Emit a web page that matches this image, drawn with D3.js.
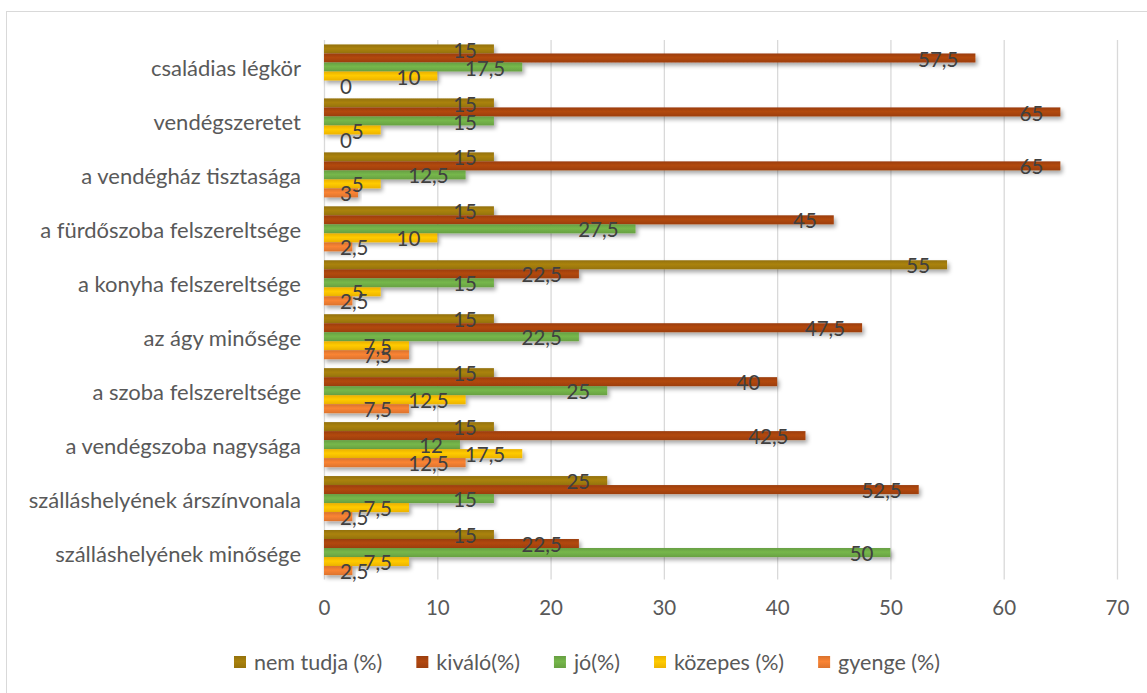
<!DOCTYPE html>
<html><head><meta charset="utf-8">
<script src="https://cdn.jsdelivr.net/npm/d3@7"></script>
<style>
html,body{margin:0;padding:0;background:#fff;}
text{font-family:Lato,"Open Sans",sans-serif;}
</style></head>
<body>
<svg id="chart" width="1147" height="693"></svg>
<script>
const categories = ["családias légkör","vendégszeretet","a vendégház tisztasága","a fürdőszoba felszereltsége","a konyha felszereltsége","az ágy minősége","a szoba felszereltsége","a vendégszoba nagysága","szálláshelyének árszínvonala","szálláshelyének minősége"];
const seriesNames = ["nem tudja (%)","kiváló(%)","jó(%)","közepes (%)","gyenge (%)"];
const nemTudja = [15,15,15,15,55,15,15,15,25,15];
const kivalo   = [57.5,65,65,45,22.5,47.5,40,42.5,52.5,22.5];
const jo       = [17.5,15,12.5,27.5,15,22.5,25,12,15,50];
const kozepes  = [10,5,5,10,5,7.5,12.5,17.5,7.5,7.5];
const gyenge   = [0,0,3,2.5,2.5,7.5,7.5,12.5,2.5,2.5];
const xTicks = [0,10,20,30,40,50,60,70];
const colors = ["#a17b0c","#a9440f","#70ad47","#ffc000","#ed7d31"];

const seriesValues = [nemTudja,kivalo,jo,kozepes,gyenge];
const svg = d3.select("#chart");

// border
svg.append("rect").attr("x",6.5).attr("y",11.5).attr("width",1160).attr("height",700)
  .attr("fill","none").attr("stroke","#d9d9d9").attr("stroke-width",1);

const defs = svg.append("defs");
const filt = defs.append("filter").attr("id","shadow").attr("x","-5%").attr("y","-50%").attr("width","115%").attr("height","250%");
filt.append("feDropShadow").attr("dx",2).attr("dy",3).attr("stdDeviation",2).attr("flood-color","#000").attr("flood-opacity",0.35);
colors.forEach((c,i)=>{
  const g = defs.append("linearGradient").attr("id","grad"+i).attr("x1",0).attr("y1",0).attr("x2",0).attr("y2",1);
  const base = d3.color(c);
  g.append("stop").attr("offset","0%").attr("stop-color",base.darker(0.25));
  g.append("stop").attr("offset","45%").attr("stop-color",base.brighter(0.15));
  g.append("stop").attr("offset","100%").attr("stop-color",base.darker(0.2));
});

const x = d3.scaleLinear().domain([0,70]).range([324,1117]);
const y = d3.scaleBand().domain(categories).range([40,579.5]).paddingInner(0.165).paddingOuter(0.0825);
const ySub = d3.scaleBand().domain(seriesNames).range([0,y.bandwidth()]);

// gridlines
svg.append("g").selectAll("line").data(xTicks).join("line")
  .attr("x1",d=>x(d)+0.5).attr("x2",d=>x(d)+0.5).attr("y1",40).attr("y2",579.5)
  .attr("stroke","#d9d9d9").attr("stroke-width",1.3);

// x tick labels
const xAxis = d3.axisBottom(x).tickValues(xTicks).tickSize(0).tickPadding(0).tickFormat(d=>String(d));
const xg = svg.append("g").attr("transform","translate(0,600)").call(xAxis);
xg.select(".domain").remove();
xg.selectAll("text").attr("fill","#595959").style("font-size","20.5px").attr("dy","0.72em").attr("font-family","Lato");

// y category labels
const yAxis = d3.axisLeft(y).tickSize(0).tickPadding(0);
const yg = svg.append("g").attr("transform","translate(301,2)").call(yAxis);
yg.select(".domain").remove();
yg.selectAll("text").attr("fill","#595959").style("font-size","22px").attr("font-family","Lato");

// bars
const groups = svg.append("g").selectAll("g").data(categories).join("g")
  .attr("transform",d=>`translate(0,${y(d)})`);
groups.each(function(cat,ci){
  const g = d3.select(this);
  seriesNames.forEach((s,si)=>{
    const v = seriesValues[si][ci];
    if(v>0){
      g.append("rect").attr("x",x(0)).attr("y",ySub(s)).attr("width",x(v)-x(0)).attr("height",ySub.bandwidth())
        .attr("fill","url(#grad"+si+")").attr("filter","url(#shadow)");
    }
  });
});
// labels
groups.each(function(cat,ci){
  const g = d3.select(this);
  seriesNames.forEach((s,si)=>{
    const v = seriesValues[si][ci];
    const label = String(v).replace(".",",");
    const t = g.append("text").text(label).attr("fill","#404040").style("font-size","20.5px")
      .attr("y",ySub(s)+ySub.bandwidth()/2).attr("dy","0.42em").attr("text-anchor","end");
    const w = t.node().getComputedTextLength();
    const right = Math.max(x(v)-17, x(0)+16+w);
    t.attr("x",right);
  });
});

// legend
const leg = svg.append("g");
let lx = 0;
seriesNames.forEach((s,i)=>{
  const it = leg.append("g");
  it.append("rect").attr("x",0).attr("y",-6).attr("width",12).attr("height",12).attr("fill","url(#grad"+i+")");
  const t = it.append("text").attr("x",20).attr("y",0).attr("dy","0.35em").text(s).attr("fill","#595959").style("font-size","21.5px");
  const w = t.node().getComputedTextLength();
  it.attr("transform",`translate(${lx},0)`);
  lx += 20 + w + 34;
});
const total = lx - 34;
leg.attr("transform",`translate(${587 - total/2},662)`);
</script>
</body></html>
